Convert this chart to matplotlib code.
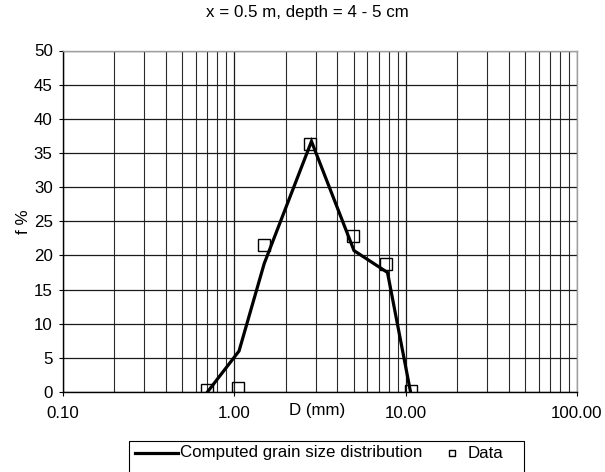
import numpy as np
import matplotlib
matplotlib.use('Agg')
import matplotlib.pyplot as plt
from matplotlib.patches import Rectangle
from matplotlib.lines import Line2D
from matplotlib.ticker import LogLocator, NullFormatter

plt.rcParams['font.family'] = ['Liberation Sans', 'DejaVu Sans']
FS = 12.2

# computed grain size distribution (line)
D_comp = [0.70, 1.07, 1.50, 2.83, 5.01, 7.85, 10.7]
f_comp = [0.0, 6.0, 18.8, 36.7, 20.7, 17.5, 0.0]

# measured data (squares)
D_data = [0.70, 1.05, 1.50, 2.79, 4.95, 7.74, 10.7]
f_data = [0.35, 0.65, 21.5, 36.3, 22.9, 18.8, 0.1]

xticks = [0.1, 1, 10, 100]
xtick_labels = ['0.10', '1.00', '10.00', '100.00']
yticks = list(range(0, 51, 5))

fig = plt.figure(figsize=(6.05, 4.72), dpi=100)
ax = fig.add_axes([62.5/605, 80/472, (577-62.5)/605, (392-50.5)/472])

ax.set_xscale('log')
ax.set_xlim(0.1, 100)
ax.set_ylim(0, 50)

ax.grid(True, which='major', axis='both', color='#1a1a1a', lw=0.9)
ax.grid(True, which='minor', axis='x', color='#2a2a2a', lw=0.8)
ax.xaxis.set_minor_locator(LogLocator(base=10, subs=np.arange(2, 10)))
ax.xaxis.set_minor_formatter(NullFormatter())
ax.set_axisbelow(True)

ax.plot(D_comp, f_comp, color='black', lw=2.3, solid_joinstyle='miter')
ax.plot(D_data, f_data, ls='none', marker='s', ms=8, mfc='none', mec='black', mew=1.0)

ax.set_xticks(xticks)
ax.set_xticklabels(xtick_labels)
ax.set_yticks(yticks)
ax.tick_params(axis='both', which='major', direction='out', length=3, width=0.8,
               labelsize=FS, colors='black')
ax.tick_params(axis='x', which='minor', length=0)
ax.tick_params(axis='x', pad=7)
ax.tick_params(axis='y', pad=4)

for s in ['top', 'right']:
    ax.spines[s].set_color('#a0a0a0')
    ax.spines[s].set_linewidth(1.0)
for s in ['left', 'bottom']:
    ax.spines[s].set_color('black')
    ax.spines[s].set_linewidth(1.0)

fig.text(307/605, 1 - 13/472, 'x = 0.5 m, depth = 4 - 5 cm', fontsize=FS,
         ha='center', va='center')
ax.set_ylabel('f %', fontsize=FS, labelpad=2)
fig.text(317/605, 1 - 410/472, 'D (mm)', fontsize=FS, ha='center', va='center')

# legend drawn by hand, box runs off the bottom edge
tf = fig.transFigure
fig.patches.append(Rectangle((129/605, -0.05), (524-129)/605, 0.05 + (472-441)/472,
                             transform=tf, fill=False, ec='black', lw=0.8))
ly = 1 - 453/472
fig.lines.append(Line2D([135/605, 178/605], [ly, ly], transform=tf, color='black', lw=2.3))
fig.text(180/605, ly, 'Computed grain size distribution', fontsize=FS, ha='left', va='center')
fig.lines.append(Line2D([452/605], [ly], transform=tf, ls='none', marker='s', ms=5,
                        mfc='none', mec='black', mew=1.0))
fig.text(468/605, ly, 'Data', fontsize=FS, ha='left', va='center')

fig.savefig('out.png', dpi=100)
